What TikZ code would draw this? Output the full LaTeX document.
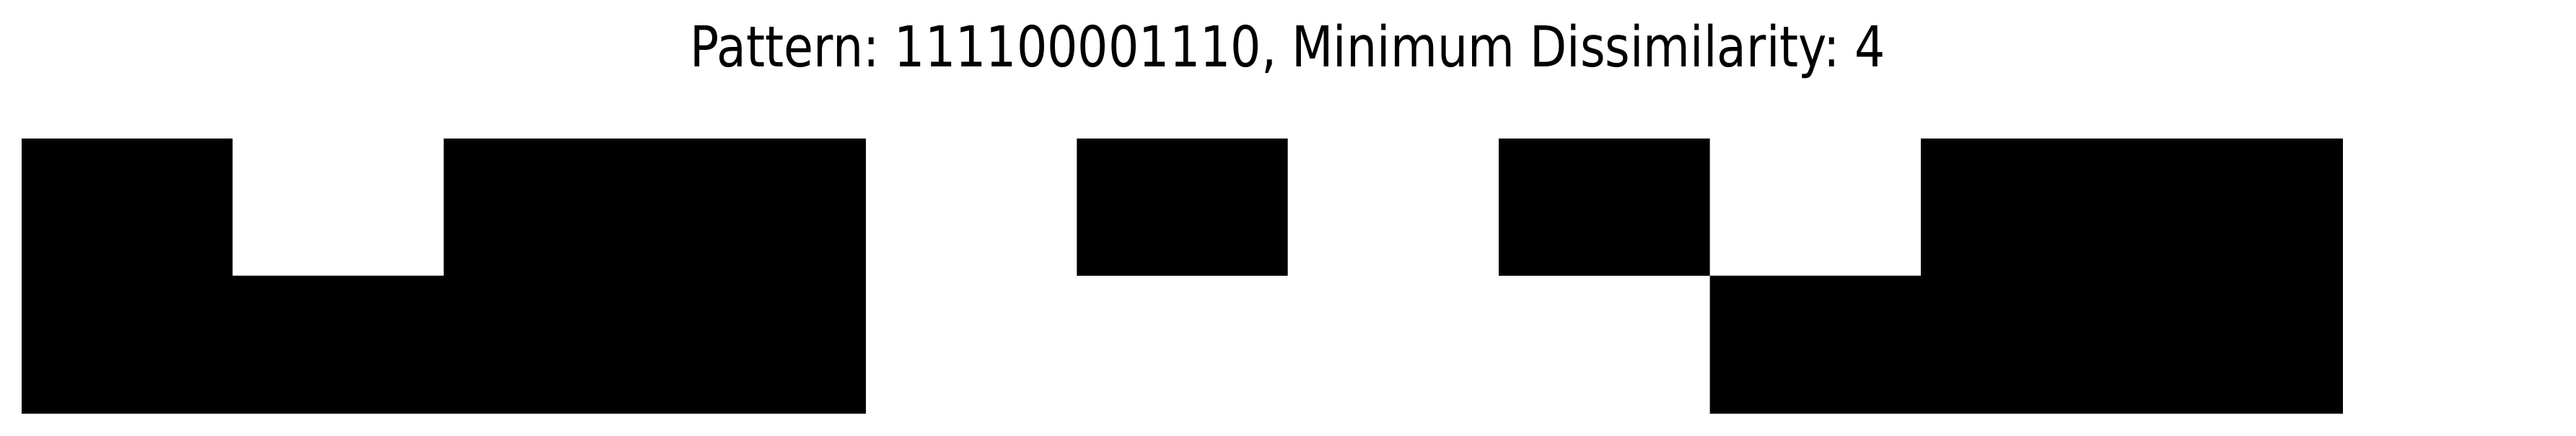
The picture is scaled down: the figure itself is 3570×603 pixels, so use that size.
\documentclass[tikz,border=0pt]{standalone}
\usepackage{fontspec}
\setmainfont{DejaVu Sans}
\frenchspacing
\begin{document}
\begin{tikzpicture}[x=0.01cm,y=0.01cm]
\useasboundingbox (0,0) rectangle (3570,603);
\def\cw{292.45}
\def\xo{30}
% top row: y 221..411 ; bottom row: 30..221
\fill[black]
  \foreach \c in {0,2,3,5,7,9,10} { ({\xo+\c*\cw},221) rectangle ({\xo+(\c+1)*\cw},411) }
  \foreach \c in {0,1,2,3,8,9,10} { ({\xo+\c*\cw},30) rectangle ({\xo+(\c+1)*\cw},221) };
\node[anchor=base,inner sep=0pt,font=\fontsize{22.2pt}{26pt}\selectfont] (title) at (1785,510) {\scalebox{0.853}[1]{Pattern: 111100001110, Minimum Dissimilarity: 4}};
\end{tikzpicture}
\end{document}
